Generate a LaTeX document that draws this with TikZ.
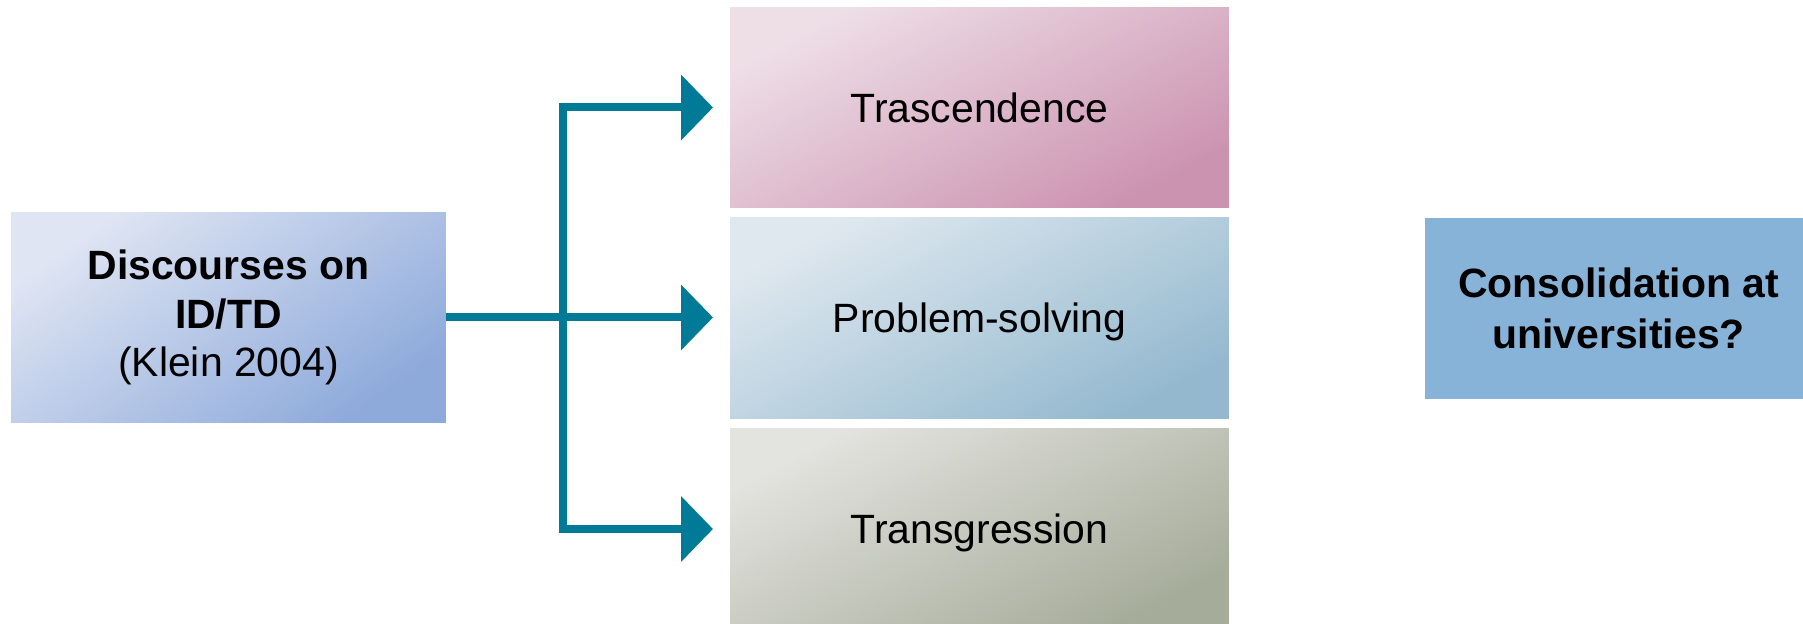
\documentclass[tikz,border=0pt]{standalone}
\usepackage{fontspec}
\setmainfont{Liberation Sans}
\usetikzlibrary{arrows.meta}
\definecolor{flowteal}{RGB}{0,122,150}
\definecolor{discA}{HTML}{DFE5F3}
\definecolor{discB}{HTML}{8EAADB}
\definecolor{trasA}{HTML}{EEDFE7}
\definecolor{trasB}{HTML}{CC93B1}
\definecolor{probA}{HTML}{DFE8EF}
\definecolor{probB}{HTML}{94B9CF}
\definecolor{transgA}{HTML}{E3E3DF}
\definecolor{transgB}{HTML}{A6AC9A}
\definecolor{consC}{HTML}{87B3D8}
\tikzset{
  big/.style={font=\fontsize{23.3}{27.5}\selectfont},
  box/.style={big, inner sep=0pt, outer sep=0pt, minimum width=9.98cm, minimum height=4.02cm,
              text height=16.7pt, text depth=0pt, shading angle=28},
  flow/.style={draw=flowteal, line width=0.16cm, -{Triangle[length=0.64cm,width=1.28cm]}}
}
\begin{document}
\begin{tikzpicture}[x=0.02cm,y=-0.02cm]
    \path[use as bounding box, clip] (0,0) rectangle (1803,624);
    \node[big, align=center, inner sep=0pt, minimum width=8.7cm, minimum height=4.22cm,
          top color=discA, bottom color=discB, shading angle=35] (Disc) at (228.5,317.5)
          {\textbf{Discourses on}\\\textbf{ID/TD}\\(Klein 2004)};
    \node[box, top color=trasA, bottom color=trasB, shading angle=28] (Tras) at (979.5,107.5) {Trascendence};
    \node[box, top color=probA, bottom color=probB, shading angle=28] (Prob) at (979.5,318) {Problem-solving};
    \node[box, top color=transgA, bottom color=transgB, shading angle=28] (Transg) at (979.5,529) {Transgression};
    \node[font=\fontsize{23.3}{29.3}\selectfont, align=center, fill=consC, inner sep=0pt,
          minimum width=7.74cm, minimum height=3.62cm] (Cons) at (1618.5,308.5)
          {\textbf{Consolidation at}\\\textbf{universities?}};
    \coordinate (Fork) at (563,317.5);
    \coordinate (ToTras) at (713,107.5);
    \coordinate (ToProb) at (713,317.5);
    \coordinate (ToTransg) at (713,529);
    \draw[flow] (Fork) |- (ToTras);
    \draw[flow] (Fork) |- (ToTransg);
    \draw[flow] (Disc.east) -- (ToProb);
  \end{tikzpicture}
\end{document}
